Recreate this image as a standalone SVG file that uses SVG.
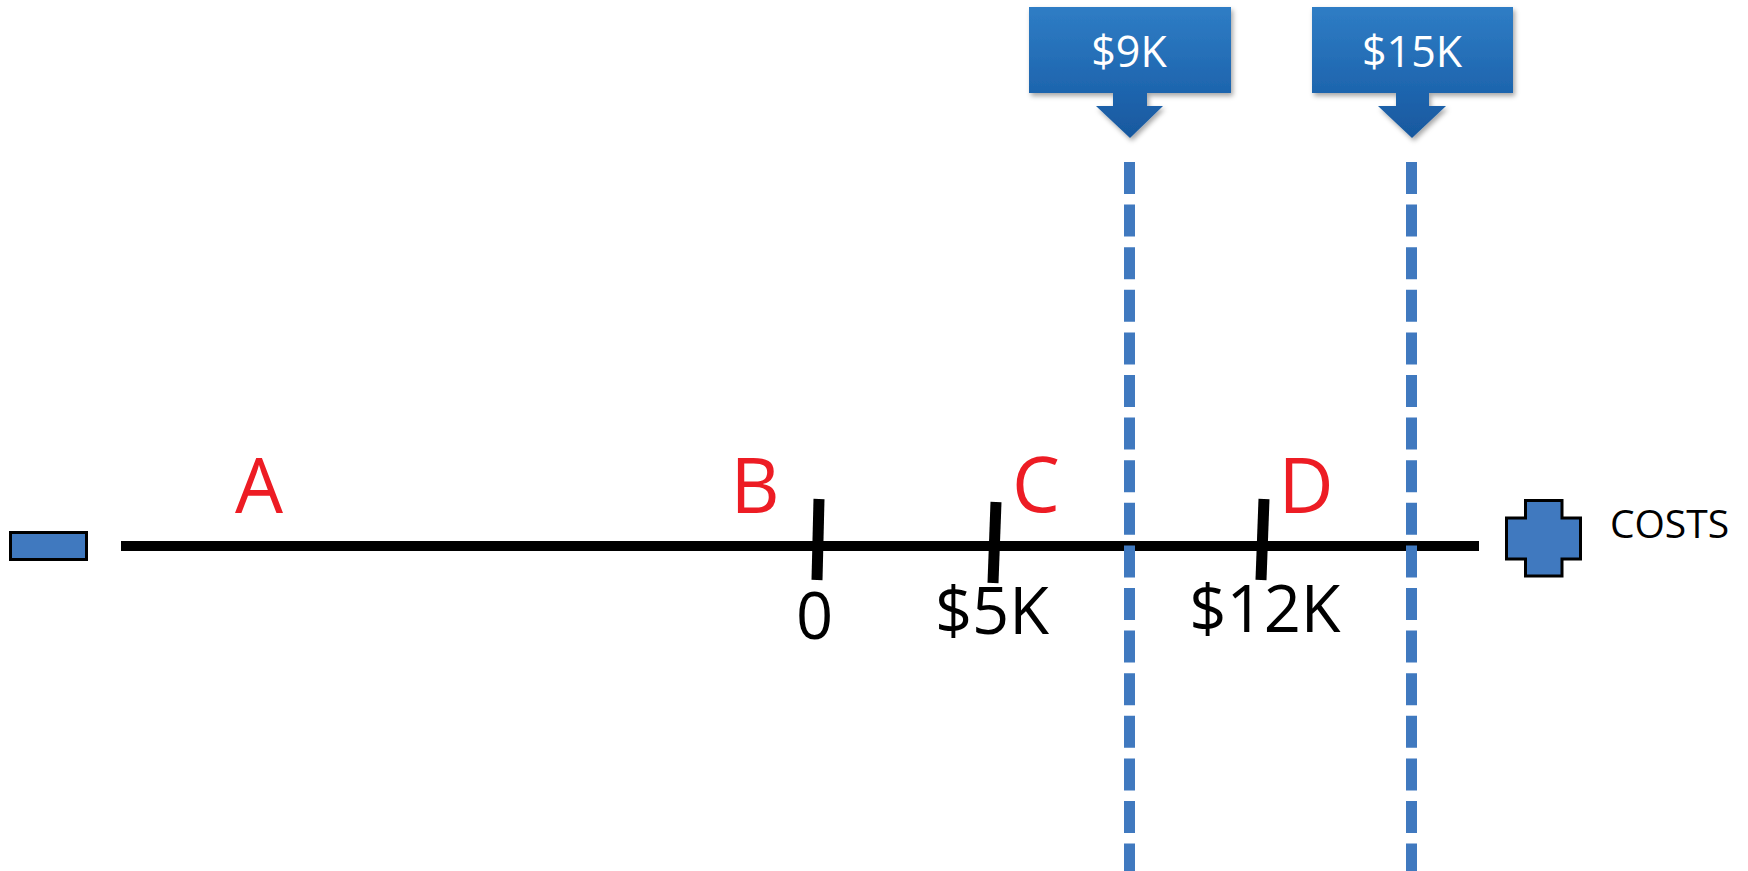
<svg xmlns="http://www.w3.org/2000/svg" width="1748" height="871" viewBox="0 0 1748 871">
  <style>
    .lbl { font-family: "Open Sans", "Liberation Sans", sans-serif; }
    .red { fill: #ed1c24; font-size: 76px; text-anchor: middle; }
    .val { fill: #000000; font-size: 65px; text-anchor: middle; }
    .call { fill: #ffffff; font-size: 43px; text-anchor: middle; }
    .tick { stroke: #000000; stroke-width: 11; fill: none; }
    .dash { stroke: #4079bf; stroke-width: 11; stroke-dasharray: 32 10.6; fill: none; }
    .sym { fill: #4079bf; stroke: #000000; stroke-width: 3; }
  </style>
  <defs>
    <linearGradient id="callGrad" x1="0" y1="0" x2="0" y2="1">
      <stop offset="0" stop-color="#2f7dc5"/>
      <stop offset="0.64" stop-color="#1e65ae"/>
      <stop offset="1" stop-color="#18589e"/>
    </linearGradient>
    <filter id="shadow" x="-10%" y="-10%" width="130%" height="140%">
      <feDropShadow dx="2" dy="3" stdDeviation="2.5" flood-color="#000000" flood-opacity="0.35"/>
    </filter>
  </defs>
  <rect width="1748" height="871" fill="#ffffff"/>

  <g id="connectors">
    <line x1="121" y1="546" x2="1479" y2="546" stroke="#000000" stroke-width="10"/>
    <line class="dash" x1="1129.5" y1="162" x2="1129.5" y2="871"/>
    <line class="dash" x1="1411.5" y1="162" x2="1411.5" y2="871"/>
  </g>

  <g id="minus">
    <rect class="sym" x="10.5" y="532.5" width="76" height="27"/>
  </g>

  <g id="plus">
    <path class="sym" d="M1525.5,500.5 H1562 V518 H1580.5 V559 H1562 V576 H1525.5 V559 H1506.5 V518 H1525.5 Z"/>
    <text class="lbl" x="1669.5" y="538" font-size="39" text-anchor="middle" fill="#000000">COSTS</text>
  </g>

  <g id="tick-0">
    <line class="tick" x1="819" y1="499" x2="817" y2="580"/>
    <text class="lbl val" x="814.5" y="639">0</text>
  </g>
  <g id="tick-5k">
    <line class="tick" x1="996" y1="502" x2="993" y2="583"/>
    <text class="lbl val" x="992" y="634">$5K</text>
  </g>
  <g id="tick-12k">
    <line class="tick" x1="1264" y1="499" x2="1261" y2="580"/>
    <text class="lbl val" x="1265" y="632">$12K</text>
  </g>

  <g id="label-A"><text class="lbl red" x="259" y="513">A</text></g>
  <g id="label-B"><text class="lbl red" x="755" y="513">B</text></g>
  <g id="label-C"><text class="lbl red" x="1036" y="512">C</text></g>
  <g id="label-D"><text class="lbl red" x="1306" y="513">D</text></g>

  <g id="callout-9k">
    <path d="M1029,7 H1231 V93 H1147 V106 H1163 L1130,138 L1096,106 H1113 V93 H1029 Z" fill="url(#callGrad)" filter="url(#shadow)"/>
    <text class="lbl call" x="1129" y="67">$9K</text>
  </g>
  <g id="callout-15k">
    <path d="M1312,7 H1513 V93 H1429 V106 H1446 L1412,138 L1378,106 H1396 V93 H1312 Z" fill="url(#callGrad)" filter="url(#shadow)"/>
    <text class="lbl call" x="1412" y="67">$15K</text>
  </g>
</svg>
